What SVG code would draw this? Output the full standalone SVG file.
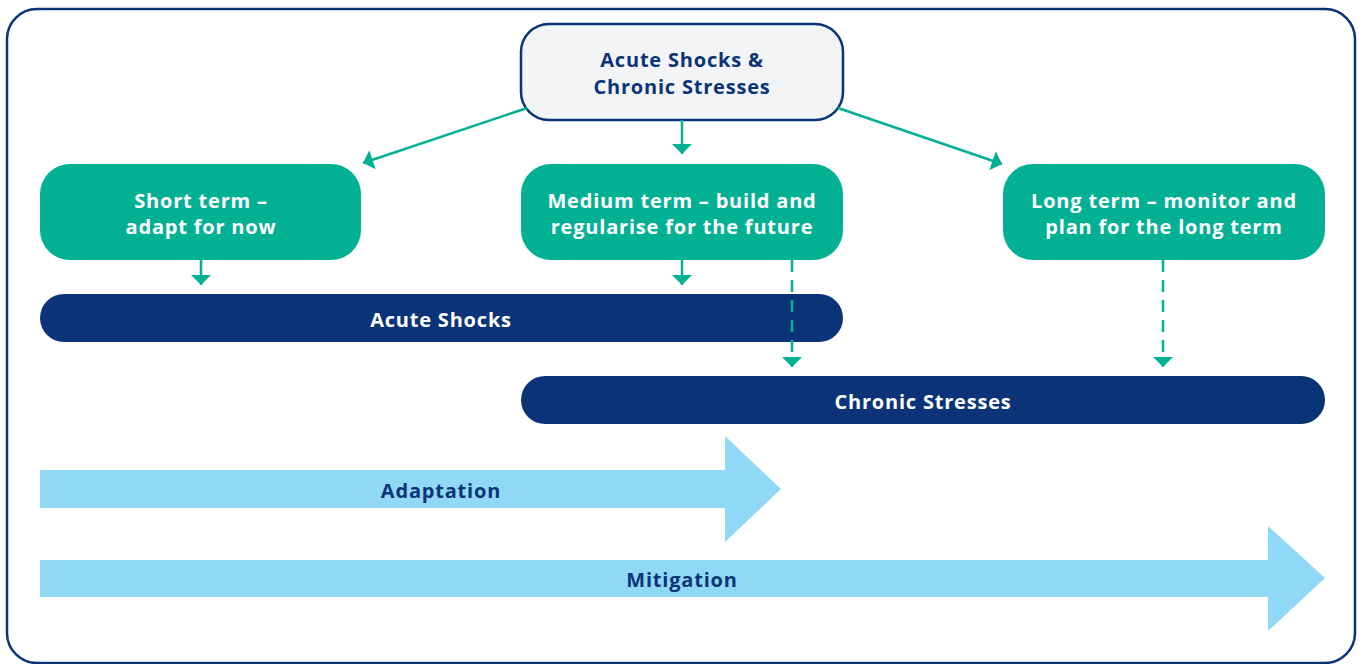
<svg xmlns="http://www.w3.org/2000/svg" width="1361" height="664" viewBox="0 0 1361 664">
<style>
.t{font-family:"Open Sans","Liberation Sans",sans-serif;font-weight:700;font-size:20px;letter-spacing:0.8px;text-anchor:middle}
.w{fill:#ffffff}
.b{fill:#0b3478}
.g{fill:#02b194}
.bar{fill:#0b3478}
.arr{fill:#8fd9f6}
.c{stroke:#02b194;stroke-width:2.5;fill:none}
.d{stroke-dasharray:12 8}
</style>
<defs>
<marker id="ah" viewBox="0 0 10 10" refX="10" refY="5" markerWidth="10" markerHeight="10" markerUnits="userSpaceOnUse" orient="auto" style="overflow:visible">
<path d="M0,-5 L10,5 L0,15 Z" fill="#02b194"/>
</marker>
</defs>
<rect x="7" y="9" width="1348" height="654" rx="30" fill="#ffffff" stroke="#0b3478" stroke-width="2.5"/>
<g id="top">
<rect x="521" y="24" width="322" height="96" rx="28" fill="#f3f4f6" stroke="#0b3478" stroke-width="2.5"/>
<text class="t b" x="682" y="67">Acute Shocks &amp;</text>
<text class="t b" x="682" y="94">Chronic Stresses</text>
</g>
<g id="short">
<rect class="g" x="40" y="164" width="321" height="96" rx="30"/>
<text class="t w" x="201" y="208">Short term –</text>
<text class="t w" x="201" y="234">adapt for now</text>
</g>
<g id="medium">
<rect class="g" x="521" y="164" width="322" height="96" rx="30"/>
<text class="t w" x="682" y="208">Medium term – build and</text>
<text class="t w" x="682" y="234">regularise for the future</text>
</g>
<g id="long">
<rect class="g" x="1003" y="164" width="322" height="96" rx="30"/>
<text class="t w" x="1164" y="208">Long term – monitor and</text>
<text class="t w" x="1164" y="234">plan for the long term</text>
</g>
<g id="acute">
<rect class="bar" x="40" y="294" width="803" height="48" rx="24"/>
<text class="t w" x="441" y="327">Acute Shocks</text>
</g>
<g id="chronic">
<rect class="bar" x="521" y="376" width="804" height="48" rx="24"/>
<text class="t w" x="923" y="409">Chronic Stresses</text>
</g>
<g id="adaptation">
<polygon class="arr" points="40,470 725,470 725,436 781,489 725,542 725,508 40,508"/>
<text class="t b" x="441" y="498">Adaptation</text>
</g>
<g id="mitigation">
<polygon class="arr" points="40,560 1268,560 1268,526 1325,578 1268,631 1268,597 40,597"/>
<text class="t b" x="682" y="587">Mitigation</text>
</g>
<g id="connectors">
<path class="c" d="M527,108 L363,163" marker-end="url(#ah)"/>
<path class="c" d="M682,120 L682,154" marker-end="url(#ah)"/>
<path class="c" d="M838,108 L1002,164" marker-end="url(#ah)"/>
<path class="c" d="M201,260 L201,285" marker-end="url(#ah)"/>
<path class="c" d="M682,260 L682,285" marker-end="url(#ah)"/>
<path class="c d" d="M792,260 L792,367" marker-end="url(#ah)"/>
<path class="c d" d="M1163,260 L1163,367" marker-end="url(#ah)"/>
</g>
</svg>
